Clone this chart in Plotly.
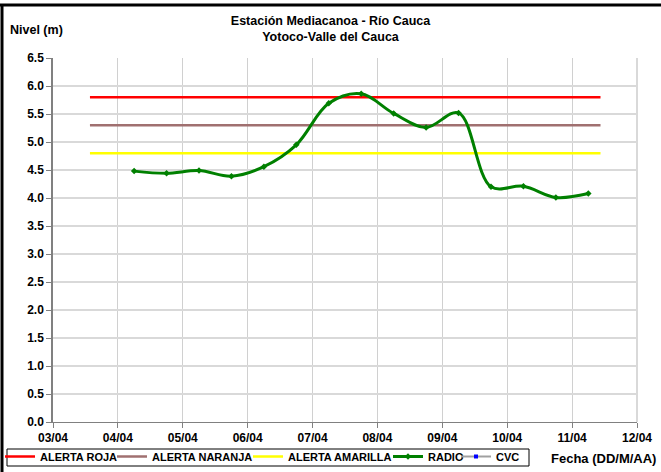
import plotly.graph_objects as go

# Radio station readings, Estación Mediacanoa (every 12 h)
radio_dates = [
    "2011-04-04 06:00", "2011-04-04 18:00", "2011-04-05 06:00", "2011-04-05 18:00",
    "2011-04-06 06:00", "2011-04-06 18:00", "2011-04-07 06:00", "2011-04-07 18:00",
    "2011-04-08 06:00", "2011-04-08 18:00", "2011-04-09 06:00", "2011-04-09 18:00",
    "2011-04-10 06:00", "2011-04-10 18:00", "2011-04-11 06:00",
]
radio_levels = [4.48, 4.44, 4.49, 4.39, 4.56, 4.95, 5.69, 5.86,
                5.51, 5.26, 5.52, 4.20, 4.21, 4.01, 4.08]

# CVC series has no readings in this period
cvc_dates = [None]
cvc_levels = [None]

# Alert thresholds (m) and the span they are drawn over
alert_dates = ["2011-04-03 13:40", "2011-04-11 10:30"]
alert_roja = 5.8
alert_naranja = 5.3
alert_amarilla = 4.8

x_range = ["2011-04-03", "2011-04-12"]

FONT = "Liberation Sans"
BOLD = dict(family=FONT, weight="bold", color="black")

W, H = 661, 472
L, R, T, B = 53, 24, 58, 50
pw, ph = W - L - R, H - T - B

def px(x):
    return (x - L) / pw

def py(y):
    return (H - B - y) / ph

fig = go.Figure()
fig.add_trace(go.Scatter(x=alert_dates, y=[alert_roja] * 2, mode="lines",
                         name="ALERTA ROJA", legend="legend",
                         line=dict(color="#FF0000", width=2.5)))
fig.add_trace(go.Scatter(x=alert_dates, y=[alert_naranja] * 2, mode="lines",
                         name="ALERTA NARANJA", legend="legend2",
                         line=dict(color="#A07070", width=2.5)))
fig.add_trace(go.Scatter(x=alert_dates, y=[alert_amarilla] * 2, mode="lines",
                         name="ALERTA AMARILLA", legend="legend3",
                         line=dict(color="#FFFF00", width=2.5)))
fig.add_trace(go.Scatter(x=radio_dates, y=radio_levels, mode="lines+markers",
                         name="RADIO", legend="legend4",
                         line=dict(color="#008000", width=3, shape="spline", smoothing=1),
                         marker=dict(color="#008000", size=5, symbol="diamond")))
fig.add_trace(go.Scatter(x=cvc_dates, y=cvc_levels, mode="lines+markers",
                         name="CVC", legend="legend5",
                         line=dict(color="#A0A0A0", width=2),
                         marker=dict(color="#0000FF", size=4, symbol="square")))

# one legend per entry so the entries sit where Excel put them; the box is a shape
def leg(text_x):
    return dict(orientation="h", xref="container", yref="container",
                x=(text_x - 41) / W, y=1 - 442 / H, xanchor="left", yanchor="top",
                borderwidth=0, bgcolor="rgba(0,0,0,0)",
                font=dict(size=11, **BOLD), itemwidth=30, itemclick=False)

fig.update_layout(
    width=W, height=H,
    margin=dict(l=L, r=R, t=T, b=B, autoexpand=False),
    paper_bgcolor="white", plot_bgcolor="white",
    font=dict(size=11, **BOLD),
    title=dict(text="Estación Mediacanoa - Río Cauca<br>Yotoco-Valle del Cauca",
               x=0.5, xanchor="center", y=1 - 25 / H, yanchor="top",
               font=dict(size=12.5, **BOLD)),
    showlegend=True,
    legend=leg(39), legend2=leg(153), legend3=leg(289), legend4=leg(429), legend5=leg(497),
    xaxis=dict(type="date", range=x_range, dtick=86400000, tickformat="%d/%m",
               tickfont=dict(size=12, **BOLD),
               showgrid=True, gridcolor="#D0D0D0", gridwidth=1,
               showline=True, linecolor="#808080", linewidth=1,
               ticks="outside", ticklen=5, tickcolor="#808080",
               zeroline=False, fixedrange=True),
    yaxis=dict(range=[0, 6.5], dtick=0.5, tickformat=".1f",
               tickfont=dict(size=12, **BOLD),
               showgrid=True, gridcolor="#D9D9D9", gridwidth=1.5,
               showline=True, linecolor="#808080", linewidth=1.5,
               ticks="outside", ticklen=5, tickcolor="#808080",
               zeroline=False, fixedrange=True),
)

fig.add_annotation(text="Nivel (m)", xref="paper", yref="paper",
                   x=px(8), y=py(30), xanchor="left", yanchor="middle",
                   showarrow=False, font=dict(size=12.5, **BOLD))
fig.add_annotation(text="Fecha (DD/M/AA)", xref="paper", yref="paper",
                   x=px(658), y=py(458), xanchor="right", yanchor="middle",
                   showarrow=False, font=dict(size=13, **BOLD))

# legend box
fig.add_shape(type="rect", xref="paper", yref="paper",
              x0=px(7), x1=px(529), y0=py(449), y1=py(466),
              line=dict(color="black", width=1), fillcolor="rgba(0,0,0,0)")
# right border of plot area
fig.add_shape(type="line", xref="paper", yref="paper", x0=1, x1=1, y0=0, y1=1,
              line=dict(color="#D9D9D9", width=2))
# outer chart frame (top and left edges visible)
fig.add_shape(type="line", xref="paper", yref="paper", x0=px(0), x1=px(W), y0=py(5), y1=py(5),
              line=dict(color="black", width=3))
fig.add_shape(type="line", xref="paper", yref="paper", x0=px(2), x1=px(2), y0=py(5), y1=py(H),
              line=dict(color="black", width=3))

# drop the default page margin so the figure sits at the window origin
fig.write_html("out.html", config={"displayModeBar": False},
               post_script="document.body.style.margin='0';")
